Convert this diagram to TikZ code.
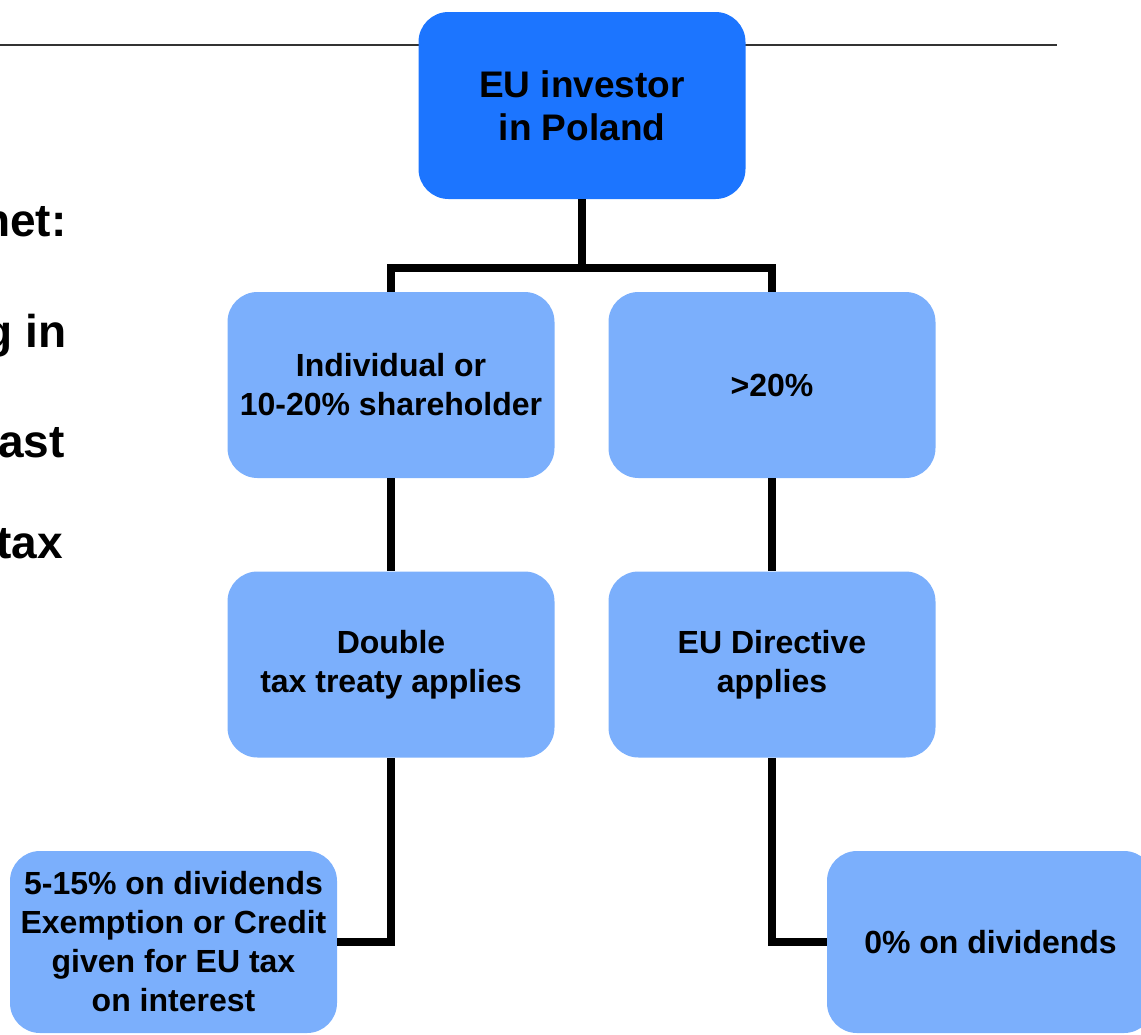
\documentclass[tikz,border=0pt]{standalone}
\usepackage{fontspec}
\setmainfont{Liberation Sans}
\definecolor{topblue}{HTML}{1C75FF}
\definecolor{boxblue}{HTML}{7BAFFC}

\begin{document}
\begin{tikzpicture}[x=0.5pt,y=-0.5pt,
  topbox/.style={fill=topblue, rounded corners=15pt, minimum width=163.5pt,
    minimum height=93.5pt, align=center, font=\bfseries\fontsize{18.5}{21.5}\selectfont},
  subbox/.style={fill=boxblue, rounded corners=15pt, minimum width=163.5pt,
    minimum height=93pt, align=center, font=\bfseries\fontsize{16}{19.5}\selectfont},
  link/.style={line width=3.7pt},
  cuttext/.style={anchor=base east, inner sep=0pt, font=\bfseries\fontsize{23}{27}\selectfont}]

\useasboundingbox (0,0) rectangle (1141,1034);

% Rule behind the top box
\draw[line width=0.75pt, black!80] (0,45) -- (1057,45);

% Left text, cut by the frame
\node[cuttext] (lineA) at (67,236) {net:};
\node[cuttext] (lineB) at (67,347) {g in};
\node[cuttext] (lineC) at (65,457) {ast};
\node[cuttext] (lineD) at (63,558) {tax};

% Top box
\node[topbox] (eu) at (582,105.5) {EU investor\\ in Poland};

% --- Left branch ---
\node[subbox] (share) at (391,385) {Individual or\\10-20\% shareholder};
\node[subbox] (treaty) at (391,664.5) {Double\\tax treaty applies};
\node[subbox, minimum height=91pt] (credit) at (173.5,942)
  {5-15\% on dividends\\Exemption or Credit\\given for EU tax\\on interest};

% --- Right branch ---
\node[subbox] (major) at (772,385) {>20\%};
\node[subbox] (directive) at (772,664.5) {EU Directive\\applies};
\node[subbox, minimum height=91pt] (zero) at (990.5,942) {0\% on dividends};

% Connectors
\coordinate (fork) at (582,268);
\draw[link] (eu.south) -- (fork);
\draw[link] (fork) -| (share.north);
\draw[link] (fork) -| (major.north);
\draw[link] (share.south) -- (treaty.north);
\draw[link] (major.south) -- (directive.north);
\draw[link] (treaty.south) |- (credit.east);
\draw[link] (directive.south) |- (zero.west);

\end{tikzpicture}
\end{document}
